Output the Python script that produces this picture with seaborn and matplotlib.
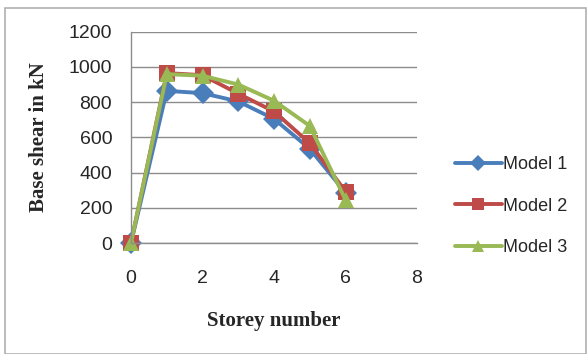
# -*- coding: utf-8 -*-

### Base shear vs storey number ###

import pandas as pd
import matplotlib.pyplot as plt
from matplotlib.patches import Rectangle
import seaborn as sns

sns.set_style("white")

## Data ##
storey = [0, 1, 2, 3, 4, 5, 6]
model_1 = [0, 864, 851, 804, 705, 535, 286]
model_2 = [0, 965, 953, 848, 747, 567, 292]
model_3 = [0, 959, 950, 900, 808, 665, 246]
models = ["Model 1", "Model 2", "Model 3"]
colors = ["#4a7ebb", "#be4b48", "#98b954"]
markers = ["D", "s", "^"]

df = pd.DataFrame({"Storey": storey * 3,
                   "Shear": model_1 + model_2 + model_3,
                   "Model": [m for m in models for _ in storey]})

## Figure ##
fig = plt.figure(figsize=(5.87, 3.54), dpi=100)
ax = fig.add_axes([131/587, 1 - 243/354, (417-131)/587, (243-31.7)/354])

sns.lineplot(data=df, x="Storey", y="Shear", hue="Model", style="Model",
             palette=colors, markers=markers, dashes=False, linewidth=2.8,
             markersize=11, markeredgewidth=0, ax=ax, legend=True, clip_on=False)

ax.set_xlim(0, 8)
ax.set_ylim(0, 1200)
ax.set_xticks(range(0, 9, 2))
ax.set_yticks(range(0, 1201, 200))
ax.yaxis.grid(True, color="#8c8c8c", linewidth=1)
ax.set_axisbelow(True)
for s in ["top", "right"]:
    ax.spines[s].set_visible(False)
for s in ["left", "bottom"]:
    ax.spines[s].set_color("#8c8c8c")
    ax.spines[s].set_linewidth(1)
ax.tick_params(axis="both", which="both", length=3.5, color="#8c8c8c",
               labelsize=14, direction="out")
ax.tick_params(axis="y", pad=10)
ax.tick_params(axis="x", pad=16)
for lab in ax.get_xticklabels() + ax.get_yticklabels():
    lab.set_family("Liberation Sans")

ax.set_xlabel("Storey number", fontsize=15, fontweight="bold",
              family="Liberation Serif", labelpad=17)
ax.set_ylabel("Base shear in kN", fontsize=15, fontweight="bold",
              family="Liberation Serif", labelpad=14)

leg = ax.legend(loc="center left", bbox_to_anchor=(1.075, 0.175), frameon=False,
                prop={"family": "Liberation Sans", "size": 13},
                handlelength=2.6, handletextpad=0.05, labelspacing=1.35)
for h in leg.legend_handles:
    h.set_markersize(8)
    h.set_linewidth(2.8)

# outer chart frame
fig.patches.append(Rectangle((5/587, 0), 581/587, 346/354, transform=fig.transFigure,
                             fill=False, edgecolor="#b0b0b0", linewidth=1.2))

plt.savefig("out.png", dpi=100)
